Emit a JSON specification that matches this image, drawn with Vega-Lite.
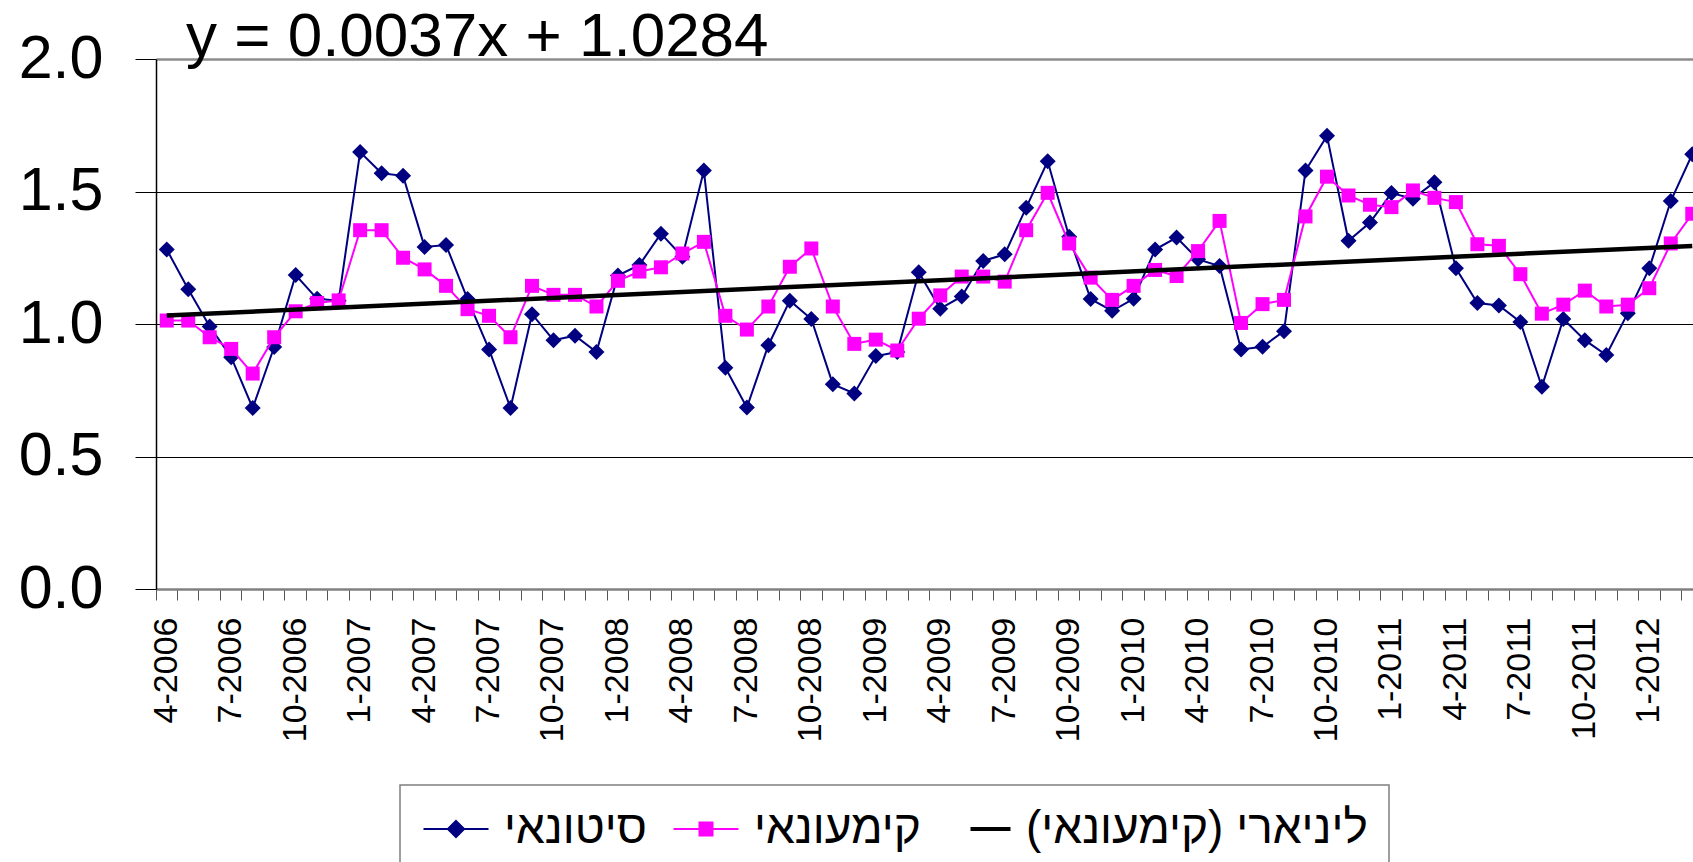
{
"$schema": "https://vega.github.io/schema/vega-lite/v6.json",
"width": 1537,
"height": 530,
"autosize": {"type": "none"},
"padding": {"left": 156, "top": 59, "right": 0, "bottom": 273},
"background": "white",
"config": {"font": "Liberation Sans", "view": {"stroke": null}},
"title": {"text": "y = 0.0037x + 1.0284", "anchor": "start", "frame": "group", "dx": 30, "offset": -90, "baseline": "alphabetic", "fontSize": 62, "fontWeight": "normal", "font": "Liberation Sans", "color": "black"},
"datasets": {
"series": [
{"d":"4-2006","s":"סיטונאי","v":1.281},{"d":"5-2006","s":"סיטונאי","v":1.131},{"d":"6-2006","s":"סיטונאי","v":0.991},{"d":"7-2006","s":"סיטונאי","v":0.875},{"d":"8-2006","s":"סיטונאי","v":0.683},{"d":"9-2006","s":"סיטונאי","v":0.913},{"d":"10-2006","s":"סיטונאי","v":1.185},{"d":"11-2006","s":"סיטונאי","v":1.095},{"d":"12-2006","s":"סיטונאי","v":1.088},
{"d":"1-2007","s":"סיטונאי","v":1.649},{"d":"2-2007","s":"סיטונאי","v":1.569},{"d":"3-2007","s":"סיטונאי","v":1.559},{"d":"4-2007","s":"סיטונאי","v":1.291},{"d":"5-2007","s":"סיטונאי","v":1.298},{"d":"6-2007","s":"סיטונאי","v":1.094},{"d":"7-2007","s":"סיטונאי","v":0.904},{"d":"8-2007","s":"סיטונאי","v":0.683},{"d":"9-2007","s":"סיטונאי","v":1.037},{"d":"10-2007","s":"סיטונאי","v":0.939},{"d":"11-2007","s":"סיטונאי","v":0.956},{"d":"12-2007","s":"סיטונאי","v":0.894},
{"d":"1-2008","s":"סיטונאי","v":1.183},{"d":"2-2008","s":"סיטונאי","v":1.223},{"d":"3-2008","s":"סיטונאי","v":1.341},{"d":"4-2008","s":"סיטונאי","v":1.254},{"d":"5-2008","s":"סיטונאי","v":1.579},{"d":"6-2008","s":"סיטונאי","v":0.835},{"d":"7-2008","s":"סיטונאי","v":0.685},{"d":"8-2008","s":"סיטונאי","v":0.92},{"d":"9-2008","s":"סיטונאי","v":1.088},{"d":"10-2008","s":"סיטונאי","v":1.019},{"d":"11-2008","s":"סיטונאי","v":0.773},{"d":"12-2008","s":"סיטונאי","v":0.738},
{"d":"1-2009","s":"סיטונאי","v":0.879},{"d":"2-2009","s":"סיטונאי","v":0.894},{"d":"3-2009","s":"סיטונאי","v":1.195},{"d":"4-2009","s":"סיטונאי","v":1.058},{"d":"5-2009","s":"סיטונאי","v":1.104},{"d":"6-2009","s":"סיטונאי","v":1.238},{"d":"7-2009","s":"סיטונאי","v":1.263},{"d":"8-2009","s":"סיטונאי","v":1.439},{"d":"9-2009","s":"סיטונאי","v":1.614},{"d":"10-2009","s":"סיטונאי","v":1.329},{"d":"11-2009","s":"סיטונאי","v":1.094},{"d":"12-2009","s":"סיטונאי","v":1.05},
{"d":"1-2010","s":"סיטונאי","v":1.095},{"d":"2-2010","s":"סיטונאי","v":1.281},{"d":"3-2010","s":"סיטונאי","v":1.326},{"d":"4-2010","s":"סיטונאי","v":1.244},{"d":"5-2010","s":"סיטונאי","v":1.219},{"d":"6-2010","s":"סיטונאי","v":0.904},{"d":"7-2010","s":"סיטונאי","v":0.914},{"d":"8-2010","s":"סיטונאי","v":0.973},{"d":"9-2010","s":"סיטונאי","v":1.579},{"d":"10-2010","s":"סיטונאי","v":1.71},{"d":"11-2010","s":"סיטונאי","v":1.314},{"d":"12-2010","s":"סיטונאי","v":1.383},
{"d":"1-2011","s":"סיטונאי","v":1.494},{"d":"2-2011","s":"סיטונאי","v":1.473},{"d":"3-2011","s":"סיטונאי","v":1.535},{"d":"4-2011","s":"סיטונאי","v":1.21},{"d":"5-2011","s":"סיטונאי","v":1.079},{"d":"6-2011","s":"סיטונאי","v":1.07},{"d":"7-2011","s":"סיטונאי","v":1.008},{"d":"8-2011","s":"סיטונאי","v":0.763},{"d":"9-2011","s":"סיטונאי","v":1.019},{"d":"10-2011","s":"סיטונאי","v":0.939},{"d":"11-2011","s":"סיטונאי","v":0.883},{"d":"12-2011","s":"סיטונאי","v":1.041},
{"d":"1-2012","s":"סיטונאי","v":1.21},{"d":"2-2012","s":"סיטונאי","v":1.464},{"d":"3-2012","s":"סיטונאי","v":1.641},
{"d":"4-2006","s":"קימעונאי","v":1.013},{"d":"5-2006","s":"קימעונאי","v":1.013},{"d":"6-2006","s":"קימעונאי","v":0.95},{"d":"7-2006","s":"קימעונאי","v":0.906},{"d":"8-2006","s":"קימעונאי","v":0.813},{"d":"9-2006","s":"קימעונאי","v":0.95},{"d":"10-2006","s":"קימעונאי","v":1.048},{"d":"11-2006","s":"קימעונאי","v":1.079},{"d":"12-2006","s":"קימעונאי","v":1.089},
{"d":"1-2007","s":"קימעונאי","v":1.354},{"d":"2-2007","s":"קימעונאי","v":1.354},{"d":"3-2007","s":"קימעונאי","v":1.25},{"d":"4-2007","s":"קימעונאי","v":1.206},{"d":"5-2007","s":"קימעונאי","v":1.144},{"d":"6-2007","s":"קימעונאי","v":1.056},{"d":"7-2007","s":"קימעונאי","v":1.031},{"d":"8-2007","s":"קימעונאי","v":0.95},{"d":"9-2007","s":"קימעונאי","v":1.144},{"d":"10-2007","s":"קימעונאי","v":1.11},{"d":"11-2007","s":"קימעונאי","v":1.11},{"d":"12-2007","s":"קימעונאי","v":1.066},
{"d":"1-2008","s":"קימעונאי","v":1.163},{"d":"2-2008","s":"קימעונאי","v":1.198},{"d":"3-2008","s":"קימעונאי","v":1.214},{"d":"4-2008","s":"קימעונאי","v":1.266},{"d":"5-2008","s":"קימעונאי","v":1.31},{"d":"6-2008","s":"קימעונאי","v":1.031},{"d":"7-2008","s":"קימעונאי","v":0.979},{"d":"8-2008","s":"קימעונאי","v":1.066},{"d":"9-2008","s":"קימעונאי","v":1.216},{"d":"10-2008","s":"קימעונאי","v":1.285},{"d":"11-2008","s":"קימעונאי","v":1.066},{"d":"12-2008","s":"קימעונאי","v":0.925},
{"d":"1-2009","s":"קימעונאי","v":0.941},{"d":"2-2009","s":"קימעונאי","v":0.9},{"d":"3-2009","s":"קימעונאי","v":1.02},{"d":"4-2009","s":"קימעונאי","v":1.108},{"d":"5-2009","s":"קימעונאי","v":1.179},{"d":"6-2009","s":"קימעונאי","v":1.179},{"d":"7-2009","s":"קימעונאי","v":1.16},{"d":"8-2009","s":"קימעונאי","v":1.354},{"d":"9-2009","s":"קימעונאי","v":1.495},{"d":"10-2009","s":"קימעונאי","v":1.304},{"d":"11-2009","s":"קימעונאי","v":1.175},{"d":"12-2009","s":"קימעונאי","v":1.091},
{"d":"1-2010","s":"קימעונאי","v":1.144},{"d":"2-2010","s":"קימעונאי","v":1.204},{"d":"3-2010","s":"קימעונאי","v":1.181},{"d":"4-2010","s":"קימעונאי","v":1.275},{"d":"5-2010","s":"קימעונאי","v":1.389},{"d":"6-2010","s":"קימעונאי","v":1.004},{"d":"7-2010","s":"קימעונאי","v":1.075},{"d":"8-2010","s":"קימעונאי","v":1.091},{"d":"9-2010","s":"קימעונאי","v":1.406},{"d":"10-2010","s":"קימעונאי","v":1.556},{"d":"11-2010","s":"קימעונאי","v":1.485},{"d":"12-2010","s":"קימעונאי","v":1.45},
{"d":"1-2011","s":"קימעונאי","v":1.441},{"d":"2-2011","s":"קימעונאי","v":1.504},{"d":"3-2011","s":"קימעונאי","v":1.476},{"d":"4-2011","s":"קימעונאי","v":1.46},{"d":"5-2011","s":"קימעונאי","v":1.301},{"d":"6-2011","s":"קימעונאי","v":1.295},{"d":"7-2011","s":"קימעונאי","v":1.188},{"d":"8-2011","s":"קימעונאי","v":1.039},{"d":"9-2011","s":"קימעונאי","v":1.073},{"d":"10-2011","s":"קימעונאי","v":1.126},{"d":"11-2011","s":"קימעונאי","v":1.066},{"d":"12-2011","s":"קימעונאי","v":1.073},
{"d":"1-2012","s":"קימעונאי","v":1.135},{"d":"2-2012","s":"קימעונאי","v":1.304},{"d":"3-2012","s":"קימעונאי","v":1.416}
],
"trend": [
{"d":"4-2006","s":"ליניארי (קימעונאי)","v":1.0321},
{"d":"3-2012","s":"ליניארי (קימעונאי)","v":1.2948}
]
},
"layer": [
{
"data": {"name": "series"},
"transform": [{"filter": "datum.s === 'סיטונאי'"}],
"mark": {"type": "line", "strokeWidth": 2, "point": {"filled": true, "shape": "diamond", "size": 256}},
"encoding": {
"x": {"field": "d", "type": "ordinal", "bandPosition": 0.5,
 "scale": {"type": "band", "paddingInner": 0, "paddingOuter": 0, "range": [0, 1547],
  "domain": ["4-2006","5-2006","6-2006","7-2006","8-2006","9-2006","10-2006","11-2006","12-2006","1-2007","2-2007","3-2007","4-2007","5-2007","6-2007","7-2007","8-2007","9-2007","10-2007","11-2007","12-2007","1-2008","2-2008","3-2008","4-2008","5-2008","6-2008","7-2008","8-2008","9-2008","10-2008","11-2008","12-2008","1-2009","2-2009","3-2009","4-2009","5-2009","6-2009","7-2009","8-2009","9-2009","10-2009","11-2009","12-2009","1-2010","2-2010","3-2010","4-2010","5-2010","6-2010","7-2010","8-2010","9-2010","10-2010","11-2010","12-2010","1-2011","2-2011","3-2011","4-2011","5-2011","6-2011","7-2011","8-2011","9-2011","10-2011","11-2011","12-2011","1-2012","2-2012","3-2012"]},
 "axis": {"orient": "bottom", "bandPosition": 0, "labels": false, "ticks": true, "tickSize": 11, "tickColor": "#555555", "tickWidth": 1, "domainColor": "#808080", "domainWidth": 2.5, "grid": false, "title": null}},
"y": {"field": "v", "type": "quantitative",
 "scale": {"domain": [0, 2], "nice": false},
 "axis": {"title": null, "grid": true, "values": [0, 0.5, 1, 1.5, 2], "format": ".1f",
  "labelFontSize": 61, "labelFont": "Liberation Sans", "labelColor": "black", "labelPadding": 32,
  "tickSize": 21, "tickColor": "black", "tickWidth": 1, "domainColor": "black", "domainWidth": 1.5,
  "gridColor": {"condition": {"test": "datum.value === 2", "value": "#8c8c8c"}, "value": "black"},
  "gridWidth": {"condition": {"test": "datum.value === 2", "value": 2.5}, "value": 1}}},
"color": {"field": "s", "type": "nominal",
 "scale": {"domain": ["סיטונאי", "קימעונאי", "ליניארי (קימעונאי)"], "range": ["#000080", "#FF00FF", "#000000"]},
 "legend": {"title": null, "orient": "none", "legendX": 244, "legendY": 726, "direction": "horizontal", "columns": 3,
  "padding": 21, "strokeColor": "#7f7f7f", "fillColor": "white",
  "symbolSize": 4225, "symbolOffset": 12, "symbolStrokeWidth": 2,
  "labelFontSize": 46, "labelFont": "Liberation Sans", "labelColor": "black", "labelLimit": 700, "labelOffset": 25, "columnPadding": 22,
  "encode": {
   "legend": {"update": {"strokeWidth": {"value": 1.5}}},
   "symbols": {"update": {
   "shape": {"signal": "datum.value === 'סיטונאי' ? 'M-1,0H1M0,-0.25L0.25,0L0,0.25L-0.25,0Z' : (datum.value === 'קימעונאי' ? 'M-1,0H1M-0.2,-0.2H0.2V0.2H-0.2Z' : 'M-0.23,0H1')"},
   "fill": {"signal": "datum.value === 'סיטונאי' ? '#000080' : (datum.value === 'קימעונאי' ? '#FF00FF' : 'transparent')"},
   "stroke": {"signal": "datum.value === 'סיטונאי' ? '#000080' : (datum.value === 'קימעונאי' ? '#FF00FF' : '#000000')"},
   "strokeWidth": {"signal": "datum.value === 'ליניארי (קימעונאי)' ? 4 : 2"},
   "opacity": {"value": 1}
  }}}}}
}
},
{
"data": {"name": "series"},
"transform": [{"filter": "datum.s === 'קימעונאי'"}],
"mark": {"type": "line", "strokeWidth": 2, "point": {"filled": true, "shape": "square", "size": 196}},
"encoding": {
"x": {"field": "d", "type": "ordinal", "bandPosition": 0.5,
 "axis": {"orient": "bottom", "bandPosition": 0.5, "values": ["4-2006","7-2006","10-2006","1-2007","4-2007","7-2007","10-2007","1-2008","4-2008","7-2008","10-2008","1-2009","4-2009","7-2009","10-2009","1-2010","4-2010","7-2010","10-2010","1-2011","4-2011","7-2011","10-2011","1-2012"],
  "ticks": false, "tickSize": 0, "domain": false, "grid": false, "labelAngle": -90, "labelFontSize": 34, "labelFont": "Liberation Sans", "labelColor": "black", "labelPadding": 28, "labelOverlap": false, "title": null}},
"y": {"field": "v", "type": "quantitative", "axis": {"title": null}},
"color": {"field": "s", "type": "nominal"}
}
},
{
"data": {"name": "trend"},
"mark": {"type": "line", "strokeWidth": 4.5},
"encoding": {
"x": {"field": "d", "type": "ordinal", "bandPosition": 0.5, "axis": null},
"y": {"field": "v", "type": "quantitative", "axis": {"title": null}},
"color": {"field": "s", "type": "nominal"}
}
}
],
"resolve": {"axis": {"x": "independent"}}
}
